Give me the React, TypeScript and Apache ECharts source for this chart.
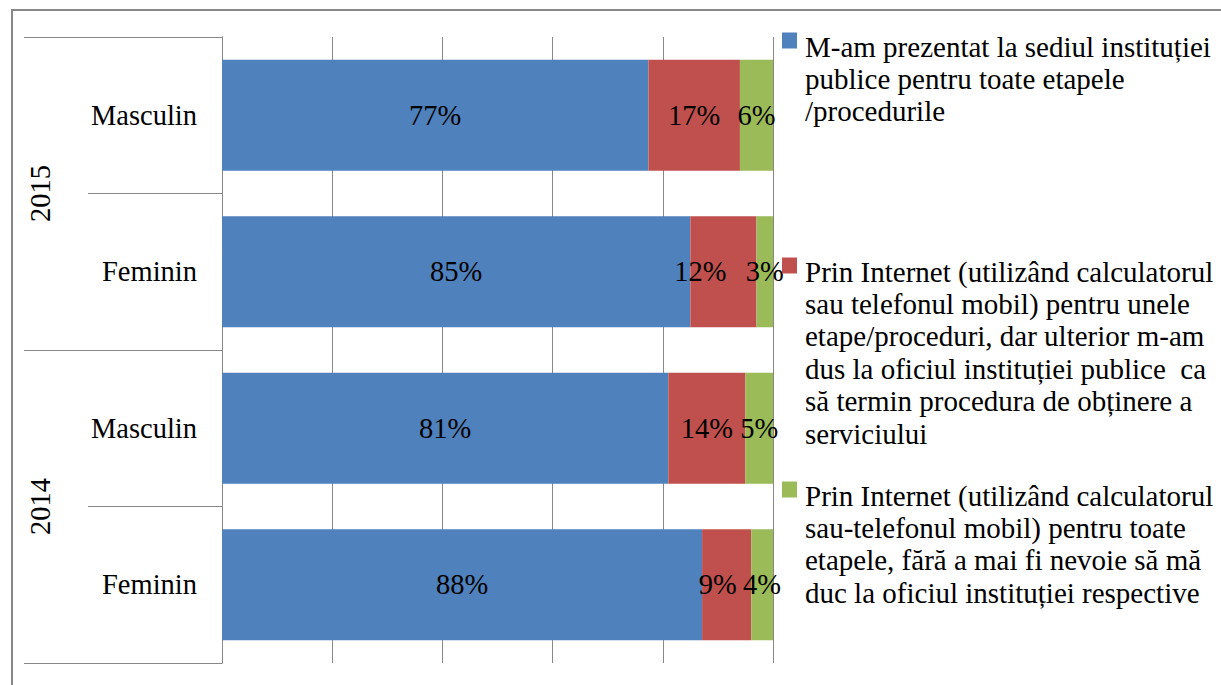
import React, { useEffect, useRef } from 'react';
import * as echarts from 'echarts';

// ---- data ----
const years = ['2015', '2014'];
const categoryYears = ['2015', '2015', '2014', '2014'];
const genders = ['Masculin', 'Feminin', 'Masculin', 'Feminin'];

const legendLines: string[][] = [
  ['M-am prezentat la sediul instituției', 'publice pentru toate etapele', '/procedurile'],
  [
    'Prin Internet (utilizând calculatorul',
    'sau telefonul mobil) pentru unele',
    'etape/proceduri, dar ulterior m-am',
    'dus la oficiul instituției publice  ca',
    'să termin procedura de obținere a',
    'serviciului',
  ],
  [
    'Prin Internet (utilizând calculatorul',
    'sau-telefonul mobil) pentru toate',
    'etapele, fără a mai fi nevoie să mă',
    'duc la oficiul instituției respective',
  ],
];
const seriesNames = legendLines.map((l) => l.join(' '));

// percentages (labels show them rounded); Excel's 100% stacking normalises each row
const valuesSediu = [77.4, 85, 81, 88];
const valuesPartialOnline = [16.6, 12, 14, 9];
const valuesFullOnline = [6, 3, 5, 4];

// ---- styling ----
const FONT = 'Liberation Serif, serif';
const FS = 28.5;
const LEGEND_FS = 29;
const COLORS = ['#4F81BD', '#C0504D', '#9BBB59'];
const GREY = '#888888';
const LH = 32.4;
const ICON_W = 15;
const ICON_H = 16;
const TEXT_SHIFT = 6;
const SPACER_FS = 1;
const legendIconTops = [33, 258, 482];
// label nudges (Excel moved a couple of labels to avoid overlap)
const labelNudge: Record<string, number> = { '1-1': -23, '1-3': -9 };

export default function App() {
  const ref = useRef<HTMLDivElement>(null);

  useEffect(() => {
    if (!ref.current) return;
    const chart = echarts.init(ref.current, undefined, { renderer: 'svg' });
    const raw = [valuesSediu, valuesPartialOnline, valuesFullOnline];
    const totals = genders.map((_, i) => raw.reduce((s, arr) => s + arr[i], 0));
    const catIds = genders.map((g, i) => categoryYears[i] + ' ' + g);

    const series = raw.map((vals, si) => ({
      name: seriesNames[si],
      type: 'bar',
      stack: 'total',
      yAxisIndex: 0,
      barWidth: 111,
      itemStyle: { color: COLORS[si] },
      label: {
        show: true,
        position: 'inside',
        color: '#000',
        fontFamily: FONT,
        fontSize: FS,
        formatter: (p: any) => Math.round(raw[si][p.dataIndex]) + '%',
      },
      data: vals.map((v, i) => {
        const nudge = labelNudge[si + '-' + i];
        const item: any = { value: (v / totals[i]) * 100 };
        if (nudge) item.label = { offset: [nudge, 0] };
        return item;
      }),
    }));

    const legends = seriesNames.map((name, k) => {
      const n = legendLines[k].length;
      const spacer = (n - 1) * LH + 2 * TEXT_SHIFT;
      // bounding box top relative to icon top (spacer token box is ~1px tall)
      const rectTopRel = Math.min(0, ICON_H / 2 - (n * LH) / 2 - SPACER_FS);
      return {
        data: [name],
        left: 782,
        top: legendIconTops[k] + rectTopRel,
        padding: 0,
        icon: 'rect',
        itemWidth: ICON_W,
        itemHeight: ICON_H,
        selectedMode: false,
        formatter: () =>
          '{s| }\n' + legendLines[k].map((l) => '{t|' + l + '}').join('\n'),
        textStyle: {
          fontFamily: FONT,
          fontSize: LEGEND_FS,
          color: '#000',
          rich: {
            s: { lineHeight: spacer, fontSize: SPACER_FS, fontFamily: FONT },
            t: {
              lineHeight: LH,
              fontSize: LEGEND_FS,
              fontFamily: FONT,
              color: '#000',
              padding: [0, 0, 0, 3],
            },
          },
        },
      };
    });

    chart.setOption({
      animation: false,
      backgroundColor: '#fff',
      textStyle: { fontFamily: FONT },
      grid: { left: 222, top: 37, width: 551, height: 626, containLabel: false, outerBoundsMode: 'none' },
      legend: legends,
      xAxis: {
        type: 'value',
        min: 0,
        max: 100,
        interval: 20,
        axisLabel: { show: false },
        axisLine: { show: false },
        axisTick: { show: false },
        splitLine: { show: true, lineStyle: { color: GREY, width: 1 } },
      },
      yAxis: [
        {
          type: 'category',
          inverse: true,
          data: catIds,
          position: 'left',
          axisLine: { show: true, lineStyle: { color: GREY, width: 1 } },
          axisTick: { show: true, length: 134, lineStyle: { color: GREY, width: 1 } },
          axisLabel: {
            interval: 0,
            margin: 25,
            color: '#000',
            fontFamily: FONT,
            fontSize: FS,
            formatter: (_v: string, i: number) => genders[i],
          },
          splitLine: { show: false },
        },
        {
          type: 'category',
          inverse: true,
          data: years,
          position: 'left',
          offset: 0,
          axisLine: { show: true, lineStyle: { color: GREY, width: 1 } },
          axisTick: { show: true, length: 198, lineStyle: { color: GREY, width: 1 } },
          axisLabel: {
            interval: 0,
            rotate: 90,
            margin: 167,
            color: '#000',
            fontFamily: FONT,
            fontSize: FS,
          },
          splitLine: { show: false },
        },
      ],
      graphic: [
        {
          type: 'rect',
          shape: { x: 12, y: 10, width: 1300, height: 800 },
          style: { fill: 'none', stroke: GREY, lineWidth: 2 },
          silent: true,
        },
      ],
      series,
    });
    return () => chart.dispose();
  }, []);

  return (
    <div
      ref={ref}
      style={{ position: 'absolute', left: 0, top: 0, width: 1221, height: 685 }}
    />
  );
}
